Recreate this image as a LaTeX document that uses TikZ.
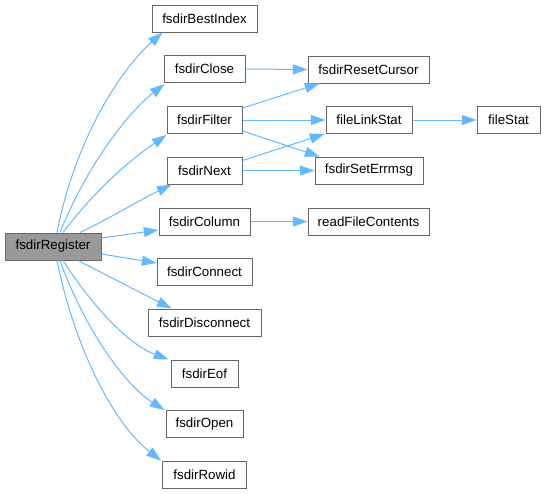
\documentclass[tikz,border=0pt]{standalone}
\usepackage{fontspec}
\setmainfont{Liberation Sans}
\usetikzlibrary{arrows.meta,calc}
\definecolor{edgeblue}{HTML}{63B8FF}
\definecolor{boxborder}{HTML}{666666}
\definecolor{rootfill}{HTML}{999999}
\tikzset{
  fn/.style={draw=boxborder, fill=white, line width=0.75pt, inner sep=0pt,
    minimum height=20.25pt, font=\fontsize{10}{12}\selectfont, text=black},
  rootfn/.style={fn, fill=rootfill},
  edge/.style={draw=edgeblue, line width=0.75pt,
    -{Triangle[length=11pt,width=7.5pt]}}
}
\begin{document}
\begin{tikzpicture}[x=0.75pt,y=-0.75pt]
\useasboundingbox (0,0) rectangle (545,493);
% nodes
\node[rootfn, minimum width=72pt]    (root)      at (53,246.5)  {fsdirRegister};
\node[fn, minimum width=78.75pt]     (best)      at (204.5,18.5) {fsdirBestIndex};
\node[fn, minimum width=60.75pt]     (close)     at (204.5,69)   {fsdirClose};
\node[fn, minimum width=56.25pt]     (filter)    at (204.5,120)  {fsdirFilter};
\node[fn, minimum width=56.25pt]     (next)      at (204.5,170.5){fsdirNext};
\node[fn, minimum width=68.25pt]     (column)    at (204.5,221.5){fsdirColumn};
\node[fn, minimum width=71.25pt]     (connect)   at (204.5,271.5){fsdirConnect};
\node[fn, minimum width=84.75pt]     (disconnect)at (204.5,322.5){fsdirDisconnect};
\node[fn, minimum width=50.25pt]     (eof)       at (204.5,373.5){fsdirEof};
\node[fn, minimum width=57.75pt]     (open)      at (204.5,424)  {fsdirOpen};
\node[fn, minimum width=63pt]        (rowid)     at (204.5,474.5){fsdirRowid};
\node[fn, minimum width=90.75pt]     (reset)     at (368.5,69.5) {fsdirResetCursor};
\node[fn, minimum width=64.5pt]      (linkstat)  at (369,120)    {fileLinkStat};
\node[fn, minimum width=47.25pt]     (filestat)  at (508.5,120)  {fileStat};
\node[fn, minimum width=81pt]        (errmsg)    at (369,170.5)  {fsdirSetErrmsg};
\node[fn, minimum width=90.75pt]     (readfile)  at (368.5,221.5){readFileContents};
% edges from root
\draw[edge] ($(root.north)+(4,0)$) .. controls (75,140) and (120,70) .. ($(best.south west)+(11,0)$);
\draw[edge] ($(root.north)+(7,0)$) .. controls (85,170) and (125,115) .. ($(close.south west)+(1,1)$);
\draw[edge] ($(root.north)+(10,0)$) .. controls (95,190) and (130,160) .. ($(filter.south west)+(0,1)$);
\draw[edge] ($(root.north)+(27,0)$) .. controls (110,218) and (140,200) .. ($(next.south west)+(5,0)$);
\draw[edge] ($(root.east)+(0,-8.5)$) -- ($(column.west)+(0,8.5)$);
\draw[edge] ($(root.east)+(0,7.5)$) -- ($(connect.west)+(0,-8.5)$);
\draw[edge] ($(root.south)+(25,0)$) -- ($(disconnect.north west)+(24,0)$);
\draw[edge] ($(root.south)+(10,0)$) .. controls (95,310) and (130,345) .. ($(eof.north west)+(-2,0)$);
\draw[edge] ($(root.south)+(7,0)$) .. controls (85,330) and (125,385) .. ($(open.north west)+(-1,0)$);
\draw[edge] ($(root.south)+(4,0)$) .. controls (75,350) and (115,425) .. ($(rowid.north west)+(-1,0)$);
% other edges
\draw[edge] (close.east) -- (reset.west);
\draw[edge] ($(filter.east)+(0,-12)$) -- ($(reset.south west)+(12,0)$);
\draw[edge] (filter.east) -- (linkstat.west);
\draw[edge] ($(filter.east)+(0,11)$) -- ($(errmsg.north west)+(5,0)$);
\draw[edge] ($(next.east)+(0,-10)$) -- ($(linkstat.south west)+(-1,0)$);
\draw[edge] (next.east) -- (errmsg.west);
\draw[edge] (linkstat.east) -- (filestat.west);
\draw[edge] (column.east) -- (readfile.west);
\end{tikzpicture}
\end{document}
